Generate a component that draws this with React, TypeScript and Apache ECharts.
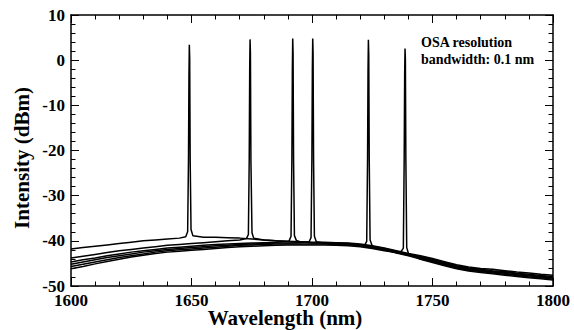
import React, { useEffect, useRef } from "react";
import * as echarts from "echarts";

// Wavelength grid (nm) for the broadband (ASE) background of each trace
const gridWl = [
  1600, 1605, 1610, 1615, 1620, 1625, 1630, 1635, 1640, 1645,
  1650, 1655, 1660, 1665, 1670, 1675, 1680, 1685, 1690, 1695,
  1700, 1705, 1710, 1715, 1720, 1725, 1730, 1735, 1740, 1745,
  1750, 1755, 1760, 1765, 1770, 1775, 1780, 1785, 1790, 1795, 1800,
];

// Background levels (dBm) of the six traces on gridWl
const base1 = [
  -41.8, -41.5, -41.2, -40.9, -40.6, -40.3, -40.0, -39.8, -39.6, -39.4,
  -39.2, -39.2, -39.2, -39.3, -39.4, -39.6, -39.8, -40.0, -40.1, -40.2,
  -40.3, -40.3, -40.4, -40.5, -40.7, -41.1, -41.6, -42.2, -42.8, -43.3,
  -43.9, -44.6, -45.3, -45.8, -46.1, -46.3, -46.6, -46.9, -47.1, -47.4, -47.6,
];
const base2 = [
  -43.8, -43.4, -43.0, -42.6, -42.2, -41.9, -41.6, -41.3, -41.0, -40.8,
  -40.6, -40.4, -40.2, -40.0, -39.8, -39.6, -39.8, -40.0, -40.2, -40.3,
  -40.4, -40.4, -40.5, -40.6, -40.9, -41.2, -41.7, -42.3, -42.9, -43.5,
  -44.1, -44.8, -45.5, -46.0, -46.3, -46.6, -46.8, -47.2, -47.4, -47.7, -47.9,
];
const base3 = [
  -44.7, -44.2, -43.8, -43.3, -42.9, -42.5, -42.2, -41.9, -41.6, -41.4,
  -41.2, -41.0, -40.8, -40.7, -40.6, -40.5, -40.4, -40.3, -40.1, -40.2,
  -40.4, -40.5, -40.6, -40.7, -41.0, -41.4, -41.9, -42.5, -43.1, -43.7,
  -44.3, -45.0, -45.7, -46.2, -46.5, -46.8, -47.0, -47.3, -47.6, -47.9, -48.1,
];
const base4 = [
  -45.2, -44.7, -44.2, -43.7, -43.3, -42.9, -42.5, -42.2, -41.9, -41.7,
  -41.5, -41.3, -41.1, -41.0, -40.8, -40.7, -40.6, -40.5, -40.5, -40.4,
  -40.2, -40.5, -40.7, -40.8, -41.1, -41.5, -42.0, -42.6, -43.2, -43.8,
  -44.5, -45.2, -45.8, -46.3, -46.6, -46.9, -47.2, -47.5, -47.8, -48.0, -48.3,
];
const base5 = [
  -45.7, -45.2, -44.7, -44.2, -43.7, -43.3, -42.9, -42.5, -42.2, -42.0,
  -41.8, -41.6, -41.4, -41.2, -41.0, -40.9, -40.8, -40.7, -40.7, -40.7,
  -40.7, -40.7, -40.8, -40.9, -40.9, -41.4, -42.0, -42.7, -43.3, -44.0,
  -44.6, -45.3, -46.0, -46.5, -46.8, -47.1, -47.4, -47.7, -48.0, -48.2, -48.5,
];
const base6 = [
  -46.2, -45.7, -45.1, -44.6, -44.1, -43.6, -43.2, -42.8, -42.5, -42.3,
  -42.1, -41.9, -41.7, -41.5, -41.3, -41.2, -41.1, -41.0, -40.9, -40.9,
  -40.9, -40.9, -41.0, -41.1, -41.3, -41.7, -42.2, -42.6, -43.0, -44.1,
  -44.8, -45.5, -46.2, -46.7, -47.0, -47.3, -47.6, -47.9, -48.2, -48.4, -48.7,
];

// Laser lines: wavelengths (nm) and levels (dBm) across each peak
const peak1Wl = [1647.6, 1648.4, 1648.75, 1648.95, 1649.1, 1649.25, 1649.45, 1649.8, 1650.6];
const peak1Db = [-39.1, -38.0, -22, -3, 3.4, 0.5, -22, -37.5, -38.9];
const peak2Wl = [1672.8, 1673.6, 1673.95, 1674.15, 1674.3, 1674.45, 1674.65, 1675.1, 1675.8];
const peak2Db = [-39.5, -38.6, -22, -2, 4.6, 1.5, -22, -38.2, -39.4];
const peak3Wl = [1690.5, 1691.3, 1691.65, 1691.85, 1692.0, 1692.15, 1692.35, 1692.7, 1693.5];
const peak3Db = [-40.0, -39.0, -22, -2, 4.8, 1.5, -22, -38.8, -39.9];
const peak4Wl = [1698.8, 1699.6, 1699.95, 1700.15, 1700.3, 1700.45, 1700.65, 1701.0, 1701.8];
const peak4Db = [-40.2, -39.3, -22, -2, 4.8, 1.5, -22, -39.0, -40.2];
const peak5Wl = [1721.9, 1722.7, 1723.05, 1723.25, 1723.4, 1723.55, 1723.75, 1724.1, 1724.9];
const peak5Db = [-40.9, -40.1, -22, -2, 4.5, 1.2, -22, -39.8, -41.0];
const peak6Wl = [1737.1, 1737.9, 1738.25, 1738.45, 1738.6, 1738.75, 1738.95, 1739.3, 1740.1];
const peak6Db = [-42.3, -41.6, -22, -3, 2.6, 0.2, -22, -41.5, -42.9];

const traces = [
  { base: base1, pw: peak1Wl, pd: peak1Db },
  { base: base2, pw: peak2Wl, pd: peak2Db },
  { base: base3, pw: peak3Wl, pd: peak3Db },
  { base: base4, pw: peak4Wl, pd: peak4Db },
  { base: base5, pw: peak5Wl, pd: peak5Db },
  { base: base6, pw: peak6Wl, pd: peak6Db },
];

const FONT = "'Liberation Serif', 'Times New Roman', serif";

function buildData(t: { base: number[]; pw: number[]; pd: number[] }) {
  const lo = t.pw[0];
  const hi = t.pw[t.pw.length - 1];
  const pts: number[][] = [];
  gridWl.forEach((w, i) => {
    if (w < lo || w > hi) pts.push([w, t.base[i]]);
  });
  t.pw.forEach((w, i) => pts.push([w, t.pd[i]]));
  pts.sort((a, b) => a[0] - b[0]);
  return pts;
}

export default function App() {
  const ref = useRef<HTMLDivElement>(null);
  useEffect(() => {
    if (!ref.current) return;
    const chart = echarts.init(ref.current, undefined, { renderer: "svg" });
    const axisCommon = {
      type: "value" as const,
      axisLine: { show: true, onZero: false, lineStyle: { color: "#000", width: 1.5 } },
      axisTick: { show: true, inside: true, length: 8, lineStyle: { color: "#000", width: 1 } },
      minorTick: { show: true, splitNumber: 5, length: 4.5, lineStyle: { color: "#000", width: 1 } },
      splitLine: { show: false },
      minorSplitLine: { show: false },
    };
    const labelStyle = {
      color: "#000",
      fontSize: 17,
      lineHeight: 13,
      fontWeight: "bold" as const,
      fontFamily: FONT,
      formatter: (v: number) => String(v),
    };
    chart.setOption({
      animation: false,
      backgroundColor: "#fff",
      grid: { left: 71, right: 21, top: 15, bottom: 44, containLabel: false },
      xAxis: [
        { ...axisCommon, position: "bottom", min: 1600, max: 1800, interval: 50, axisLabel: { ...labelStyle, margin: 7.5 } },
        { ...axisCommon, position: "top", min: 1600, max: 1800, interval: 50, axisLabel: { show: false } },
      ],
      yAxis: [
        { ...axisCommon, position: "left", min: -50, max: 10, interval: 10, axisLabel: { ...labelStyle, margin: 6 } },
        { ...axisCommon, position: "right", min: -50, max: 10, interval: 10, axisLabel: { show: false } },
      ],
      series: traces.map((t) => ({
        type: "line",
        xAxisIndex: 0,
        yAxisIndex: 0,
        data: buildData(t),
        showSymbol: false,
        symbol: "none",
        lineStyle: { color: "#000", width: 1.5 },
        emphasis: { disabled: true },
      })),
      graphic: [
        {
          type: "text",
          x: 285,
          y: 317.5,
          style: {
            text: "Wavelength (nm)",
            fill: "#000",
            fontSize: 21,
            lineHeight: 20,
            fontWeight: "bold",
            fontFamily: FONT,
            align: "center",
            verticalAlign: "middle",
          },
        },
        {
          type: "text",
          x: 22,
          y: 158,
          rotation: Math.PI / 2,
          style: {
            text: "Intensity (dBm)",
            fill: "#000",
            fontSize: 21,
            fontWeight: "bold",
            fontFamily: FONT,
            align: "center",
            verticalAlign: "middle",
          },
        },
        {
          type: "text",
          x: 421,
          y: 34,
          style: {
            text: "OSA resolution\nbandwidth: 0.1 nm",
            fill: "#000",
            fontSize: 14,
            fontWeight: "bold",
            fontFamily: FONT,
            lineHeight: 17,
            align: "left",
            verticalAlign: "top",
          },
        },
      ],
    });
    return () => chart.dispose();
  }, []);
  return <div ref={ref} style={{ width: 574, height: 330, position: "absolute", left: 0, top: 0 }} />;
}
